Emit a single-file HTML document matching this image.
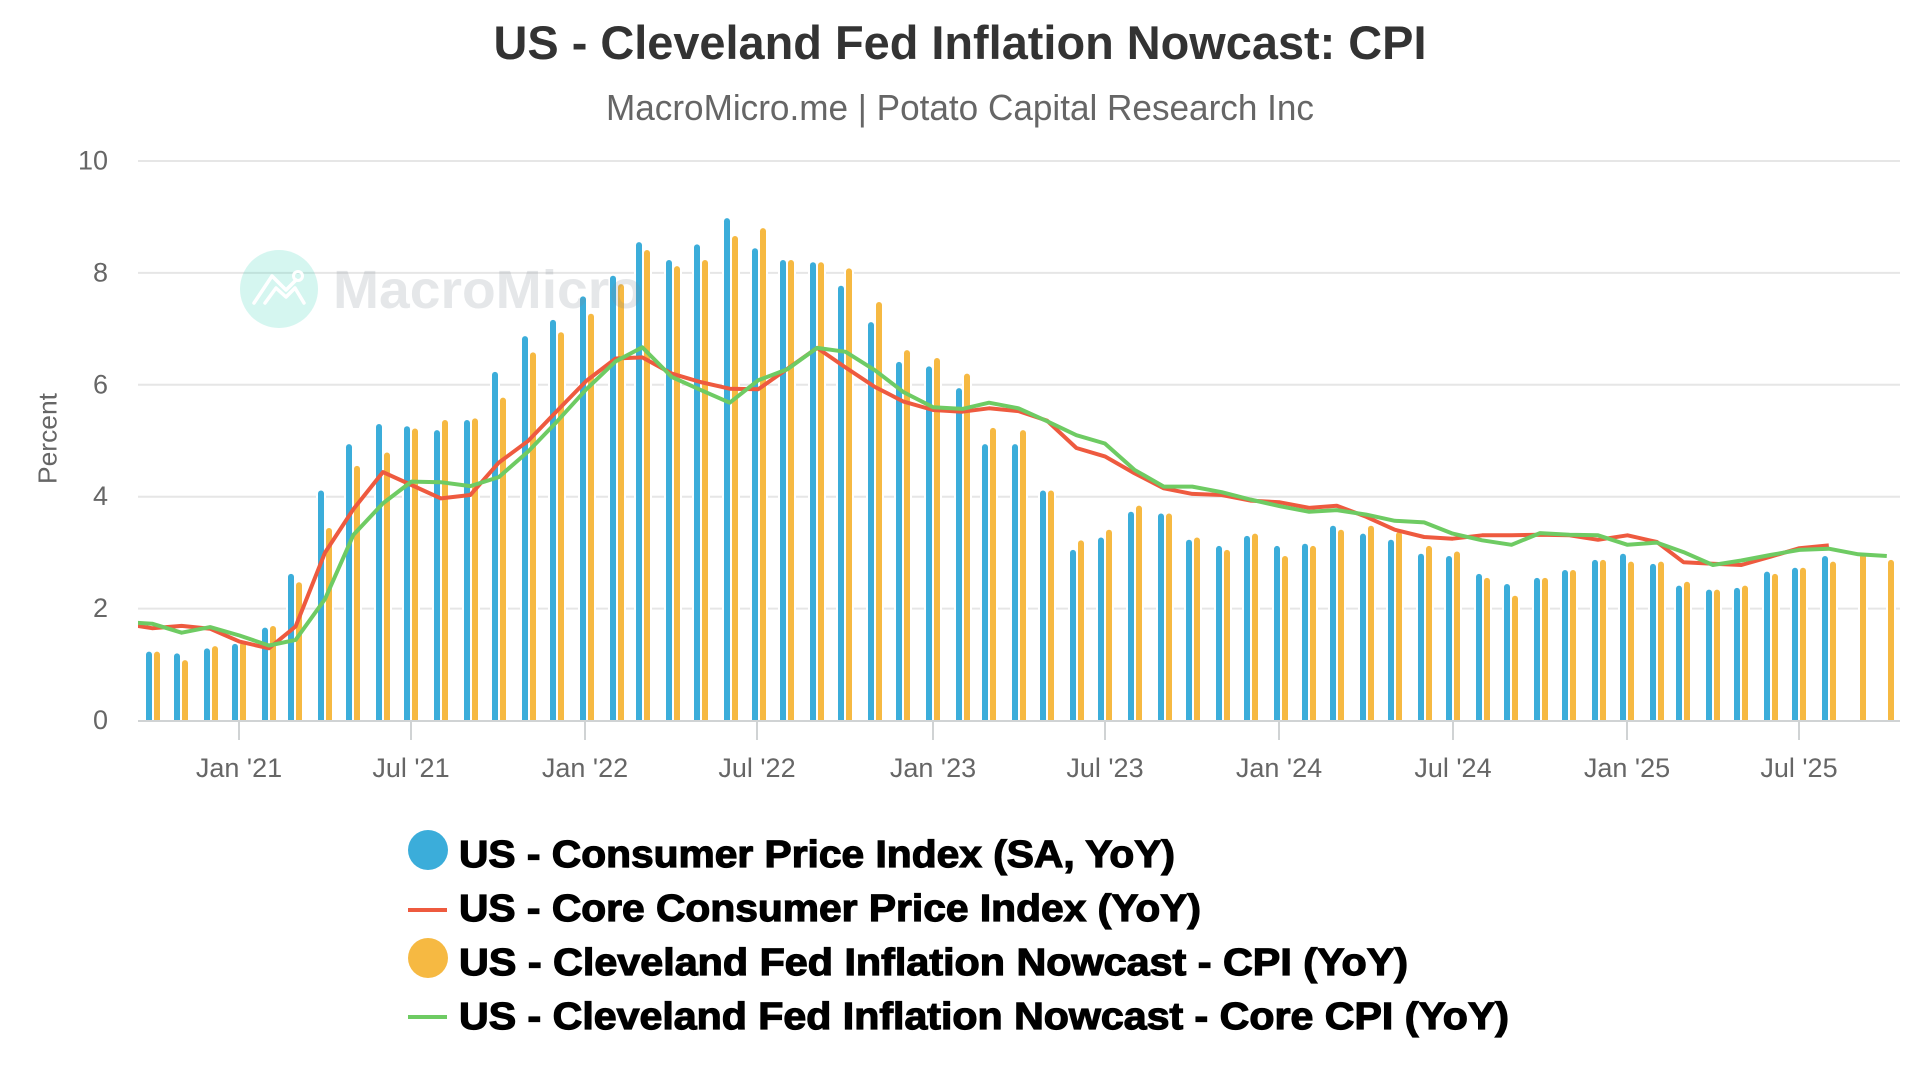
<!DOCTYPE html>
<html lang="en">
<head>
<meta charset="utf-8">
<title>US - Cleveland Fed Inflation Nowcast: CPI</title>
<style>
html,body{margin:0;padding:0;background:#fff;width:1920px;height:1080px;overflow:hidden}
svg{display:block;font-family:"Liberation Sans",sans-serif}
</style>
</head>
<body>
<svg id="chart" xmlns="http://www.w3.org/2000/svg" width="1920" height="1080" viewBox="0 0 1920 1080">
  <defs>
    <clipPath id="plot-clip"><rect x="138" y="120" width="1762" height="605"/></clipPath>
  </defs>
  <rect x="0" y="0" width="1920" height="1080" fill="#fff"/>
  <text x="960" y="59" text-anchor="middle" font-size="47" font-weight="700" fill="#333" textLength="933" lengthAdjust="spacingAndGlyphs">US - Cleveland Fed Inflation Nowcast: CPI</text>
  <text x="960" y="120" text-anchor="middle" font-size="36" fill="#666" textLength="708" lengthAdjust="spacingAndGlyphs">MacroMicro.me | Potato Capital Research Inc</text>
  <text transform="translate(56.5,438.5) rotate(-90)" text-anchor="middle" font-size="26" fill="#666" textLength="91" lengthAdjust="spacingAndGlyphs">Percent</text>
  <g id="grid"></g>
  <g id="y-labels"></g>
  <g id="bars"></g>
  <line x1="138" y1="721" x2="1900" y2="721" stroke="#d0d3d4" stroke-width="2"/>
  <g id="x-axis"></g>
  <g id="lines" clip-path="url(#plot-clip)"></g>
  <g>
    <circle cx="279" cy="289" r="39" fill="#2dd4b4" fill-opacity=".2"/>
    <path d="M254 303 L272 276 L286 290 L296 280 M265 303 L276 288 L286 297 L295 288 L304 303" fill="none" stroke="#fff" stroke-width="3.5" stroke-linecap="round" stroke-linejoin="round"/>
    <circle cx="298" cy="276" r="4.5" fill="none" stroke="#fff" stroke-width="3"/>
    <text x="333" y="308" font-size="54" font-weight="700" fill="#7b8690" fill-opacity=".2" textLength="310" lengthAdjust="spacingAndGlyphs">MacroMicro</text>
  </g>
  <g fill="#000" stroke="#000" stroke-width="1.2" font-size="38" font-weight="700">
    <g>
      <circle cx="428" cy="850" r="20" fill="#3badda" stroke="none"/>
      <text x="459" y="867" textLength="716" lengthAdjust="spacingAndGlyphs">US - Consumer Price Index (SA, YoY)</text>
    </g>
    <g>
      <rect x="408" y="908" width="39" height="4" fill="#ee5a3f" stroke="none"/>
      <text x="459" y="921" textLength="742" lengthAdjust="spacingAndGlyphs">US - Core Consumer Price Index (YoY)</text>
    </g>
    <g>
      <circle cx="428" cy="958" r="20" fill="#f6b942" stroke="none"/>
      <text x="459" y="975" textLength="949" lengthAdjust="spacingAndGlyphs">US - Cleveland Fed Inflation Nowcast - CPI (YoY)</text>
    </g>
    <g>
      <rect x="408" y="1015" width="39" height="4" fill="#6ecb63" stroke="none"/>
      <text x="459" y="1029" textLength="1050" lengthAdjust="spacingAndGlyphs">US - Cleveland Fed Inflation Nowcast - Core CPI (YoY)</text>
    </g>
  </g>
</svg>
<script>
const months = ['2020-09','2020-10','2020-11','2020-12',
'2021-01','2021-02','2021-03','2021-04','2021-05','2021-06','2021-07','2021-08','2021-09','2021-10','2021-11','2021-12',
'2022-01','2022-02','2022-03','2022-04','2022-05','2022-06','2022-07','2022-08','2022-09','2022-10','2022-11','2022-12',
'2023-01','2023-02','2023-03','2023-04','2023-05','2023-06','2023-07','2023-08','2023-09','2023-10','2023-11','2023-12',
'2024-01','2024-02','2024-03','2024-04','2024-05','2024-06','2024-07','2024-08','2024-09','2024-10','2024-11','2024-12',
'2025-01','2025-02','2025-03','2025-04','2025-05','2025-06','2025-07','2025-08','2025-09','2025-10'];
const cpi = [null,1.23,1.2,1.29,
1.37,1.66,2.62,4.11,4.94,5.30,5.26,5.19,5.37,6.23,6.87,7.16,
7.58,7.95,8.55,8.23,8.51,8.98,8.44,8.23,8.19,7.77,7.12,6.41,
6.33,5.94,4.94,4.94,4.11,3.05,3.27,3.73,3.70,3.23,3.12,3.30,
3.12,3.16,3.48,3.34,3.23,2.98,2.94,2.62,2.44,2.55,2.69,2.87,
2.98,2.80,2.41,2.34,2.37,2.66,2.73,2.94,null,null];
const nowcastCpi = [null,1.23,1.08,1.33,
1.40,1.69,2.47,3.44,4.55,4.79,5.22,5.37,5.40,5.77,6.58,6.94,
7.27,7.80,8.41,8.12,8.23,8.66,8.80,8.23,8.19,8.08,7.48,6.62,
6.48,6.20,5.23,5.19,4.11,3.22,3.41,3.84,3.70,3.27,3.05,3.34,
2.94,3.12,3.41,3.48,3.37,3.12,3.02,2.55,2.23,2.55,2.69,2.87,
2.84,2.84,2.48,2.34,2.41,2.62,2.73,2.84,2.98,2.87];
const coreCpi = [1.73,1.65,1.69,1.64,
1.41,1.29,1.68,3.00,3.78,4.44,4.21,3.97,4.03,4.61,5.00,5.53,
6.07,6.47,6.49,6.20,6.05,5.93,5.92,6.29,6.66,6.31,5.96,5.70,
5.55,5.52,5.58,5.53,5.36,4.87,4.72,4.42,4.15,4.05,4.03,3.93,
3.90,3.80,3.84,3.64,3.41,3.28,3.25,3.31,3.31,3.32,3.31,3.23,
3.31,3.19,2.83,2.80,2.78,2.93,3.08,3.13,null,null];
const nowcastCore = [1.76,1.73,1.57,1.67,
1.52,1.34,1.44,2.17,3.32,3.88,4.27,4.26,4.19,4.35,4.81,5.34,
5.92,6.42,6.67,6.14,5.91,5.68,6.08,6.28,6.66,6.59,6.26,5.87,
5.60,5.57,5.68,5.58,5.35,5.10,4.95,4.48,4.18,4.18,4.08,3.95,
3.83,3.73,3.76,3.68,3.57,3.54,3.34,3.22,3.14,3.35,3.32,3.31,
3.14,3.18,3.01,2.78,2.86,2.96,3.05,3.07,2.97,2.94];
const yTicks = [0,2,4,6,8,10];
const xTickDates = ['2021-01','2021-07','2022-01','2022-07','2023-01','2023-07','2024-01','2024-07','2025-01','2025-07'];
const xTickLabels = ["Jan '21","Jul '21","Jan '22","Jul '22","Jan '23","Jul '23","Jan '24","Jul '24","Jan '25","Jul '25"];

const NS = 'http://www.w3.org/2000/svg';
function make(tag, attrs, parent) {
  const el = document.createElementNS(NS, tag);
  for (const k in attrs) el.setAttribute(k, attrs[k]);
  parent.appendChild(el);
  return el;
}
function dayOf(m) {
  const p = m.split('-');
  return (Date.UTC(+p[0], +p[1] - 1, 1) - Date.UTC(2021, 0, 1)) / 86400000;
}
function xScale(m) { return 239.2 + 0.95 * dayOf(m); }
function yScale(v) { return 720.5 - 55.95 * v; }
function nearestOdd(x) { return 2 * Math.round((x - 1) / 2) + 1; }

const gridG = document.getElementById('grid');
const yLabelG = document.getElementById('y-labels');
yTicks.forEach(function (t) {
  if (t !== 0) {
    const g = make('line', {x1: 138, x2: 1900, y1: yScale(t), y2: yScale(t), stroke: '#e6e6e6', 'stroke-width': 2}, gridG);
    
    
  }
  const l = make('text', {x: 108, y: yScale(t) + 8.5, 'text-anchor': 'end', 'font-size': 27, fill: '#666'}, yLabelG);
  l.textContent = String(t);
  
  
});

const xG = document.getElementById('x-axis');
xTickDates.forEach(function (m, i) {
  const x = nearestOdd(xScale(m));
  const tick = make('line', {x1: x, x2: x, y1: 721, y2: 740, stroke: '#d0d3d4', 'stroke-width': 2}, xG);
  
  
  const l = make('text', {x: x, y: 777, 'text-anchor': 'middle', 'font-size': 27, fill: '#666'}, xG);
  l.textContent = xTickLabels[i];
  
  
});

const barG = document.getElementById('bars');
function drawBars(values, offset, colour, name) {
  values.forEach(function (v, i) {
    if (v === null) return;
    const cx = nearestOdd(xScale(months[i]) + 0.6) + offset;
    const top = yScale(v), bottom = 720, w = 3;
    const d = 'M' + (cx - w) + ' ' + bottom + 'L' + (cx - w) + ' ' + (top + w) +
      'A' + w + ' ' + w + ' 0 0 1 ' + (cx + w) + ' ' + (top + w) + 'L' + (cx + w) + ' ' + bottom + 'Z';
    const halo = make('path', {d: d, fill: '#fff', stroke: '#fff', 'stroke-width': 4}, barG);
    
    
    const bar = make('path', {d: d, fill: colour}, barG);
    
    
  });
}
drawBars(cpi, -4, '#3badda', 'cpi');
drawBars(nowcastCpi, 4, '#f6b942', 'nowcast-cpi');

const lineG = document.getElementById('lines');
function drawLine(values, colour, name) {
  const pts = [];
  values.forEach(function (v, i) {
    if (v !== null) pts.push((xScale(months[i]) + 0.3).toFixed(1) + ',' + yScale(v).toFixed(1));
  });
  const line = make('polyline', {points: pts.join(' '), fill: 'none', stroke: colour, 'stroke-width': 4, 'stroke-linejoin': 'round'}, lineG);
  
  
}
drawLine(coreCpi, '#ee5a3f', 'core-cpi');
drawLine(nowcastCore, '#6ecb63', 'nowcast-core-cpi');
</script>
</body>
</html>
